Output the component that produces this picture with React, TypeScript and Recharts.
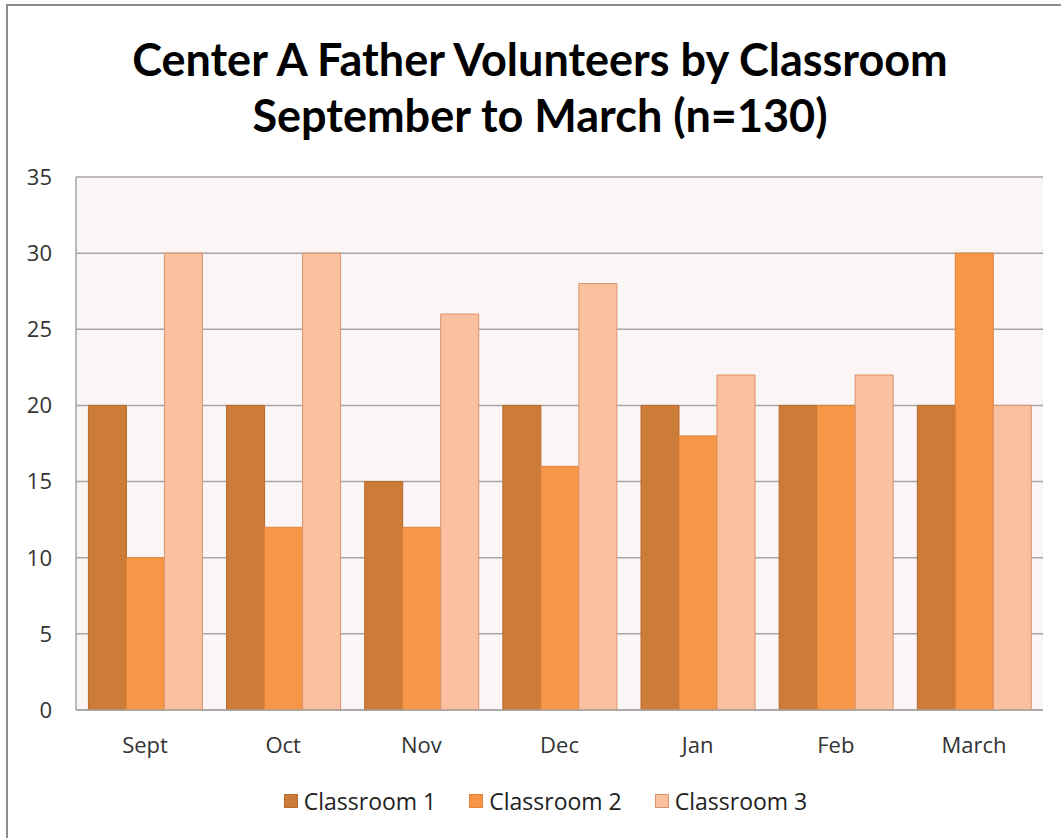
import * as React from 'react';
import {Bar, BarChart, CartesianGrid, Legend, XAxis, YAxis} from 'recharts';

const months = ['Sept', 'Oct', 'Nov', 'Dec', 'Jan', 'Feb', 'March'];
const classroom1 = [20, 20, 15, 20, 20, 20, 20];
const classroom2 = [10, 12, 12, 16, 18, 20, 30];
const classroom3 = [30, 30, 26, 28, 22, 22, 20];
const yTicks = [0, 5, 10, 15, 20, 25, 30, 35];

const seriesNames = ['Classroom 1', 'Classroom 2', 'Classroom 3'];
const fills = ['#cc7b38', '#f79646', '#fac09f'];
const strokes = ['#b86a2c', '#e0843c', '#d9936a'];

const data = months.map((month, i) => ({
	month,
	'Classroom 1': classroom1[i],
	'Classroom 2': classroom2[i],
	'Classroom 3': classroom3[i],
}));

const titleFont = 'Lato, "Open Sans", sans-serif';
const font = '"Open Sans", Lato, sans-serif';

function LegendContent() {
	return (
		<div style={{display: 'flex', justifyContent: 'center', fontFamily: font, fontSize: 23, lineHeight: '26px', color: '#222', paddingLeft: 32}}>
			{seriesNames.map((name, i) => (
				<div key={name} style={{display: 'flex', alignItems: 'center', marginRight: i < 2 ? 33 : 0}}>
					<span style={{display: 'inline-block', width: 12, height: 12, background: fills[i], border: `1px solid ${strokes[i]}`, marginRight: 6}}/>
					<span>{name}</span>
				</div>
			))}
		</div>
	);
}

export default function App() {
	return (
		<div style={{position: 'absolute', left: 0, top: 0, width: 1061, height: 838, background: '#fff', overflow: 'hidden'}}>
			<div style={{position: 'absolute', left: 6, top: 4, width: 1100, height: 900, border: '2px solid #8c8c8c'}}/>
			<div style={{position: 'absolute', left: 0, top: 31, width: 1080, textAlign: 'center', fontFamily: titleFont, fontWeight: 700, fontSize: 45, lineHeight: '56px', color: '#000'}}>
				Center A Father Volunteers by Classroom<br/>September to March (n=130)
			</div>
			<BarChart
				width={1061}
				height={838}
				data={data}
				margin={{top: 177, right: 18, left: 16, bottom: 24}}
				barCategoryGap="9%"
				barGap={0}
				style={{position: 'absolute', left: 0, top: 0}}
			>
				<CartesianGrid vertical={false} stroke="#a6a6a6" fill="#fcf5f5" strokeWidth={1.5}/>
				<XAxis
					dataKey="month"
					tickLine={false}
					tickSize={0}
					tickMargin={27}
					height={78}
					axisLine={{stroke: '#a6a6a6', strokeWidth: 1.5}}
					tick={{fill: '#333', fontSize: 22, fontFamily: font}}
				/>
				<YAxis
					domain={[0, 35]}
					ticks={yTicks}
					width={60}
					tickLine={false}
					tickSize={0}
					tickMargin={24}
					axisLine={{stroke: '#a6a6a6', strokeWidth: 1.5}}
					tick={{fill: '#333', fontSize: 22, fontFamily: font}}
				/>
				<Legend verticalAlign="bottom" height={26} content={<LegendContent/>}/>
				{seriesNames.map((name, i) => (
					<Bar key={name} dataKey={name} fill={fills[i]} stroke={strokes[i]} strokeWidth={1} isAnimationActive={false}/>
				))}
			</BarChart>
		</div>
	);
}
